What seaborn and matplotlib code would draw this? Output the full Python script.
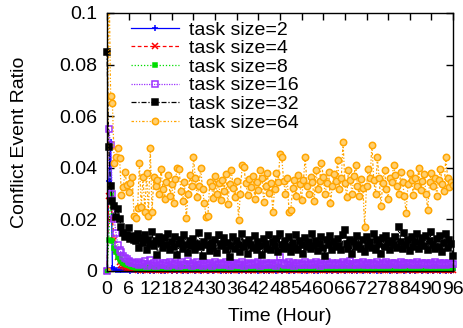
import numpy as np
import matplotlib
matplotlib.use("Agg")
import matplotlib.pyplot as plt
import seaborn as sns

# conflict event ratio, sampled every half hour, values in units of 1e-4
size2 = [
    0, 350, 500, 12, 6, 4, 3, 3, 2, 2, 3, 2, 2, 1, 2, 2,
    2, 1, 3, 2, 1, 2, 2, 3, 1, 2, 1, 2, 3, 2, 1, 2,
    1, 2, 2, 3, 1, 2, 3, 1, 2, 2, 1, 3, 2, 1, 2, 2,
    3, 1, 2, 2, 1, 2, 3, 2, 1, 2, 2, 1, 3, 2, 2, 1,
    2, 3, 1, 2, 2, 1, 2, 3, 2, 1, 2, 2, 3, 1, 2, 2,
    1, 2, 3, 2, 1, 2, 2, 1, 3, 2, 1, 2, 2, 3, 1, 2,
    2, 1, 2, 3, 2, 1, 2, 2, 1, 3, 2, 2, 1, 2, 3, 1,
    2, 2, 3, 1, 2, 1, 2, 3, 2, 2, 1, 2, 3, 1, 2, 2,
    1, 3, 2, 2, 1, 2, 2, 3, 1, 2, 2, 1, 3, 2, 1, 2,
    3, 2, 1, 2, 2, 3, 1, 2, 1, 2, 3, 2, 2, 1, 2, 3,
    2, 1, 2, 2, 3, 1, 2, 2, 1, 3, 2, 1, 2, 2, 3, 1,
    2, 3, 1, 2, 2, 1, 3, 2, 2, 1, 2, 3, 1, 2, 2, 1,
    2,
]
size4 = [
    0, 290, 300, 200, 120, 80, 55, 35, 25, 18, 14, 12, 10, 9, 8, 7,
    6, 4, 7, 3, 5, 8, 4, 6, 3, 5, 7, 4, 6, 2, 5, 4,
    5, 3, 6, 4, 7, 3, 5, 8, 4, 6, 3, 5, 4, 7, 3, 6,
    4, 6, 3, 5, 4, 7, 2, 5, 6, 3, 4, 6, 5, 3, 7, 4,
    6, 3, 5, 4, 8, 3, 5, 6, 4, 3, 5, 7, 4, 6, 3, 5,
    3, 5, 6, 4, 3, 7, 5, 4, 6, 3, 5, 4, 8, 3, 5, 6,
    4, 7, 3, 5, 6, 4, 3, 5, 7, 4, 6, 3, 5, 4, 6, 3,
    5, 4, 6, 3, 7, 5, 4, 6, 3, 5, 4, 7, 3, 6, 4, 5,
    6, 3, 5, 4, 6, 3, 8, 4, 5, 3, 6, 4, 5, 7, 3, 4,
    5, 6, 3, 4, 7, 5, 3, 6, 4, 5, 3, 6, 4, 5, 7, 3,
    4, 5, 6, 3, 5, 4, 7, 3, 6, 4, 5, 3, 6, 4, 5, 6,
    3, 6, 4, 5, 3, 7, 4, 5, 6, 3, 4, 6, 5, 3, 4, 5,
    4,
]
size8 = [
    0, 120, 300, 115, 90, 72, 55, 46, 38, 32, 28, 24, 22, 18, 16, 14,
    12, 15, 10, 13, 8, 14, 11, 9, 15, 10, 12, 7, 13, 10, 14, 9,
    11, 8, 13, 10, 15, 9, 12, 7, 11, 14, 9, 12, 10, 8, 13, 11,
    9, 12, 8, 14, 10, 7, 13, 11, 9, 15, 10, 8, 12, 9, 14, 10,
    12, 9, 11, 7, 13, 10, 15, 8, 11, 9, 14, 10, 8, 12, 10, 13,
    8, 11, 14, 9, 12, 10, 7, 13, 9, 11, 15, 8, 12, 10, 9, 14,
    10, 13, 8, 12, 9, 11, 14, 7, 10, 13, 9, 12, 8, 11, 15, 9,
    12, 8, 10, 14, 9, 13, 11, 8, 12, 10, 7, 14, 9, 11, 13, 10,
    9, 12, 15, 8, 11, 10, 13, 9, 14, 8, 12, 10, 11, 7, 13, 9,
    11, 14, 9, 12, 8, 10, 13, 11, 9, 15, 10, 12, 8, 11, 14, 9,
    13, 10, 8, 12, 11, 9, 14, 10, 12, 8, 11, 13, 9, 15, 10, 12,
    9, 11, 13, 8, 12, 10, 14, 9, 11, 13, 10, 8, 12, 9, 11, 14,
    10,
]
size16 = [
    0, 550, 490, 300, 200, 147, 100, 80, 72, 58, 50, 46, 40, 36, 32, 30,
    28, 35, 22, 30, 26, 38, 20, 28, 42, 24, 30, 18, 34, 26, 22, 32,
    25, 30, 20, 36, 28, 22, 30, 26, 18, 34, 24, 28, 22, 38, 26, 20,
    30, 24, 34, 22, 28, 20, 32, 26, 24, 30, 18, 28, 34, 22, 26, 30,
    22, 28, 36, 24, 20, 30, 26, 32, 22, 28, 24, 34, 20, 26, 30, 24,
    28, 22, 30, 26, 34, 20, 28, 24, 30, 22, 26, 32, 24, 28, 20, 30,
    54, 26, 30, 22, 28, 36, 24, 30, 20, 26, 32, 24, 28, 22, 34, 26,
    24, 30, 22, 28, 34, 26, 20, 30, 24, 28, 36, 22, 26, 30, 24, 28,
    30, 24, 28, 36, 22, 30, 26, 40, 24, 28, 32, 22, 30, 26, 34, 24,
    28, 32, 24, 30, 26, 22, 34, 28, 24, 30, 26, 36, 22, 28, 32, 26,
    30, 24, 28, 34, 22, 30, 26, 32, 28, 24, 30, 26, 34, 22, 28, 30,
    26, 32, 24, 28, 30, 22, 36, 28, 24, 30, 26, 32, 24, 28, 30, 26,
    28,
]
size32 = [
    850, 480, 330, 270, 250, 210, 240, 200, 170, 147, 130, 140, 165, 125, 135, 120,
    118, 145, 90, 128, 110, 140, 80, 120, 105, 150, 95, 115, 62, 130, 108, 88,
    128, 100, 145, 80, 112, 92, 132, 62, 104, 122, 86, 138, 102, 70, 115, 95,
    125, 82, 105, 148, 92, 58, 112, 100, 135, 78, 108, 90, 122, 68, 140, 96,
    105, 128, 80, 110, 55, 96, 132, 86, 118, 102, 74, 142, 92, 108, 64, 122,
    100, 88, 136, 80, 114, 96, 62, 125, 105, 86, 140, 82, 112, 95, 124, 72,
    145, 102, 84, 118, 92, 132, 74, 108, 90, 138, 80, 115, 100, 66, 128, 92,
    112, 84, 142, 96, 118, 76, 105, 132, 90, 60, 122, 100, 136, 82, 112, 94,
    124, 96, 80, 138, 160, 105, 86, 122, 66, 114, 92, 134, 102, 84, 120, 74,
    130, 96, 112, 88, 142, 82, 122, 104, 64, 126, 92, 136, 108, 80, 118, 100,
    132, 88, 170, 112, 84, 148, 100, 122, 76, 130, 94, 114, 142, 86, 106, 126,
    96, 136, 80, 118, 150, 102, 84, 124, 92, 134, 74, 110, 142, 88, 122, 105,
    58,
]
size64 = [
    0, 1200, 680, 650, 420, 440, 477, 438, 294, 326, 384, 333, 306, 340, 365, 215,
    207, 244, 419, 248, 365, 229, 380, 215, 477, 230, 364, 330, 352, 300, 395, 318,
    280, 345, 372, 290, 338, 262, 355, 400, 395, 310, 270, 345, 205, 300, 372, 330,
    440, 360, 285, 330, 398, 318, 265, 210, 215, 345, 330, 282, 368, 300, 340, 276,
    352, 310, 375, 260, 338, 392, 320, 288, 350, 198, 300, 410, 402, 340, 296, 358,
    325, 370, 280, 345, 312, 390, 360, 268, 330, 378, 302, 340, 230, 318, 380, 345,
    455, 440, 350, 300, 362, 230, 238, 320, 352, 290, 372, 338, 275, 352, 440, 330,
    300, 366, 345, 272, 390, 318, 350, 420, 365, 298, 340, 385, 262, 330, 375, 350,
    430, 318, 360, 500, 340, 286, 392, 352, 300, 370, 410, 330, 290, 355, 320, 170,
    330, 395, 360, 490, 352, 300, 440, 362, 250, 340, 392, 318, 280, 360, 346, 410,
    372, 328, 300, 385, 345, 290, 225, 338, 380, 352, 296, 362, 330, 398, 312, 350,
    376, 300, 237, 345, 380, 330, 362, 290, 352, 395, 338, 310, 440, 362, 326, 345,
    335,
]

x_ticks = [0, 6, 12, 18, 24, 30, 36, 42, 48, 54, 60, 66, 72, 78, 84, 90, 96]
y_ticks = [0, 0.02, 0.04, 0.06, 0.08, 0.1]
y_tick_labels = ["0", "0.02", "0.04", "0.06", "0.08", "0.1"]

plt.rcParams["font.family"] = ["Liberation Sans", "DejaVu Sans"]
plt.rcParams["font.size"] = 14

fig, ax = plt.subplots(figsize=(4.64, 3.28), dpi=100)
fig.subplots_adjust(left=0.2306, right=0.9763, bottom=0.1738, top=0.9604)

# label, data, color, linestyle, marker, size, face color, clip
series = [
    ("task size=2", size2, "#0000ff", "-", "+", 4.5, "#0000ff", False),
    ("task size=4", size4, "#ff0000", (0, (3, 2)), "x", 4, "#ff0000", False),
    ("task size=8", size8, "#00dd00", (0, (1, 1.5)), "s", 2.8, "#00dd00", False),
    ("task size=16", size16, "#9b30ff", (0, (1, 1)), "s", 4, "none", False),
    ("task size=32", size32, "#000000", (0, (4, 1.5, 1, 1.5)), "s", 3.8, "#000000", False),
    ("task size=64", size64, "#ffa500", (0, (2, 1.5, 1, 1.5, 1, 1.5)), "o", 4.6, "#ffcf70", True),
]

for label, vals, color, ls, marker, ms, mfc, clip in series:
    y = np.array(vals) / 1e4
    hours = 0.5 * np.arange(len(y))
    sns.lineplot(x=hours, y=y, ax=ax, color=color, linestyle=ls, linewidth=0.9,
                 marker=marker, markersize=ms, markerfacecolor=mfc,
                 markeredgecolor=color, markeredgewidth=1.1,
                 clip_on=clip, label=label)

ax.set_xlim(0, 96)
ax.set_ylim(0, 0.1)
ax.set_xticks(x_ticks)
ax.set_xticklabels([str(t) for t in x_ticks])
ax.set_yticks(y_ticks)
ax.set_yticklabels(y_tick_labels)
ax.tick_params(direction="in", length=5, width=1, top=True, right=True,
               labelsize=14, pad=7, colors="black")
for sp in ax.spines.values():
    sp.set_linewidth(1)
    sp.set_color("black")
    sp.set_zorder(10)

ax.set_xlabel("Time (Hour)", fontsize=14)
ax.set_ylabel("Conflict Event Ratio", fontsize=14)
ax.xaxis.set_label_coords(0.5, -0.145)
ax.yaxis.set_label_coords(-0.228, 0.5)

ax.legend(loc="upper left", bbox_to_anchor=(0.057, 0.984), frameon=False,
          fontsize=14, borderpad=0.2, borderaxespad=0, labelspacing=0.05,
          handlelength=2.5, handletextpad=0.5, numpoints=1)

fig.savefig("out.png", dpi=100)
